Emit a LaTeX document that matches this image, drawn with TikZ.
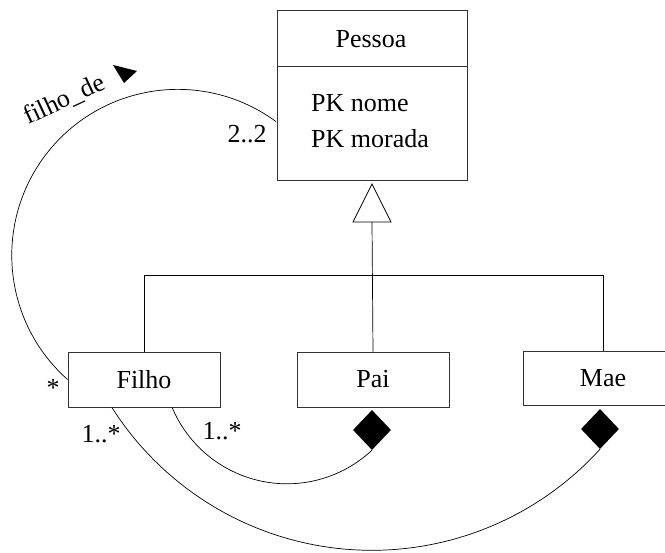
\documentclass[tikz,border=0pt]{standalone}
\usepackage{fontspec}
\setmainfont{Liberation Serif}
\usetikzlibrary{shapes.geometric}
\begin{document}
\begin{tikzpicture}[x=1pt,y=-1pt,
  every node/.style={font=\fontsize{26}{30}\selectfont},
  cls/.style={draw=black!80, line width=0.9pt, minimum width=152pt, minimum height=55pt, inner sep=0pt},
  conn/.style={draw=black, line width=0.7pt},
  comp/.style={diamond, fill=black, inner sep=0pt, minimum width=38pt, minimum height=40pt},
  lbl/.style={anchor=base, inner sep=0pt}]
\useasboundingbox (0,0) rectangle (665,553);
\clip (0,0) rectangle (665,553);
% Pessoa class
\node[cls, minimum width=190pt, minimum height=170pt] (pessoa) at (372,95) {};
\draw[black!80, line width=0.9pt] (pessoa.west |- 0,66) -- (pessoa.east |- 0,66);
\node[lbl] (ptitle) at (371,48) {Pessoa};
\node[anchor=base west, inner sep=0pt] (a1) at (311,112) {PK nome};
\node[anchor=base west, inner sep=0pt] (a2) at (311,148) {PK morada};
% subclasses
\node[cls] (filho) at (144,379.5) {Filho};
\node[cls] (pai) at (373,379.5) {Pai};
\node[cls, minimum width=160pt, minimum height=54pt] (mae) at (603,378) {Mae};
% generalization
\coordinate (apex) at (372,184);
\coordinate (tb) at (372,222);
\coordinate (bar) at (372,275);
\draw[conn, fill=white] (apex) -- (391,222) -- (353,222) -- cycle;
\draw[conn] (tb) -- (pai.north);
\draw[conn] (filho.north) -- (filho.north |- bar) -| (mae.north);
% composition diamonds
\node[comp] (paid) at (372,430) {};
\node[comp] (maed) at (600,429) {};
% associations
\draw[conn] (filho.west) arc[start angle=131.6, end angle=306.3, radius=166];
\draw[conn] (paid.south) arc[start angle=46.9, end angle=157.3, radius=124.5];
\draw[conn] (maed.south) arc[start angle=42.2, end angle=147.6, radius=308];
% labels
\node[anchor=base west, inner sep=0pt, rotate=25] (role) at (28,125) {filho\_de};
\fill (113,65) -- (137,71) -- (124,83) -- cycle;
\node[lbl] (m1) at (247,143) {2..2};
\node[lbl] (m2) at (53,397) {*};
\node[lbl] (m3) at (101,443) {1..*};
\node[lbl] (m4) at (222,440) {1..*};
\end{tikzpicture}
\end{document}
